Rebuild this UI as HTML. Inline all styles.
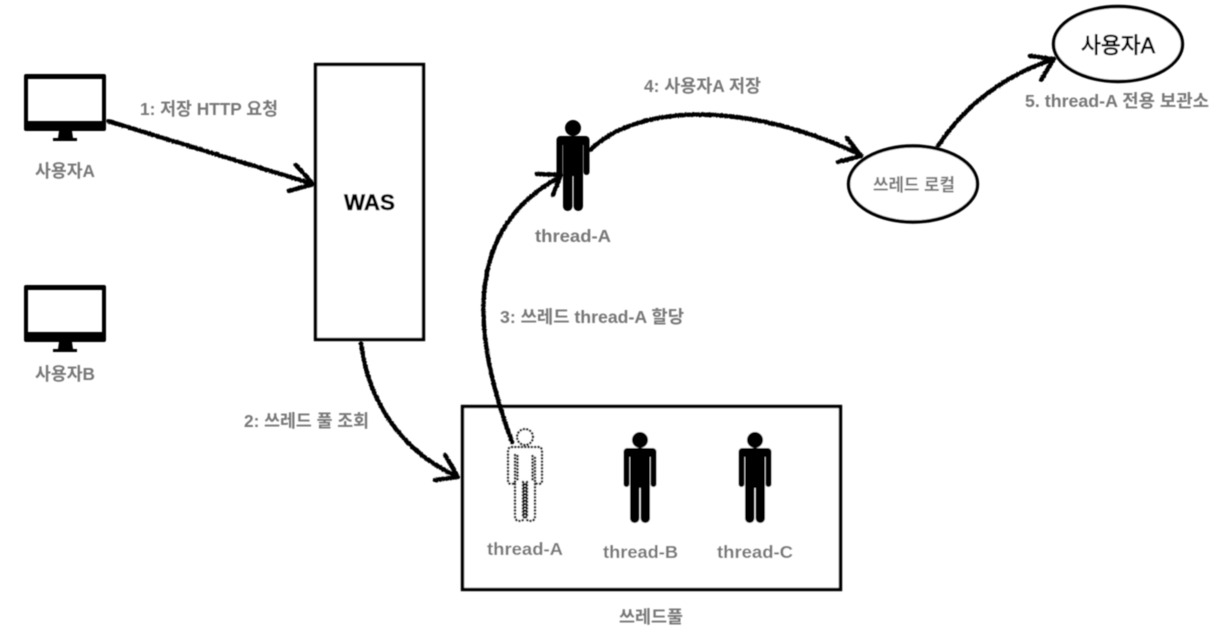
<!DOCTYPE html>
<html lang="ko">
<head>
<meta charset="utf-8">
<title>쓰레드 로컬 다이어그램</title>
<style>
html,body{margin:0;padding:0;background:#fff;width:1222px;height:640px;overflow:hidden}
svg{display:block}
text{font-family:"Liberation Sans","Noto Sans CJK KR",sans-serif}
.l{font-size:17.5px;font-weight:700;fill:#777}
.a{fill:none;stroke:#000;stroke-width:4.4;stroke-linecap:round;stroke-linejoin:round}
</style>
</head>
<body>
<svg width="1222" height="640" viewBox="0 0 1222 640" xmlns="http://www.w3.org/2000/svg">
<defs>
<filter id="rough" filterUnits="userSpaceOnUse" x="0" y="0" width="1222" height="640">
<feTurbulence type="fractalNoise" baseFrequency="0.6" numOctaves="2" seed="4" result="n"/>
<feDisplacementMap in="SourceGraphic" in2="n" scale="2.4" xChannelSelector="R" yChannelSelector="G"/>
<feGaussianBlur stdDeviation="0.45"/>
</filter>
<filter id="soft" filterUnits="userSpaceOnUse" x="0" y="0" width="1222" height="640">
<feGaussianBlur stdDeviation="0.55"/>
</filter>
<g id="monitor">
<path fill="#000" d="M26 74H104a2 2 0 0 1 2 2V129a2 2 0 0 1-2 2H26a2 2 0 0 1-2-2V76a2 2 0 0 1 2-2ZM28 79V121H102V79Z" fill-rule="evenodd"/>
<path fill="#000" d="M59 131H72L73 138H77V141H53V138H58Z"/>
</g>
<g id="person">
<circle cx="0" cy="8" r="8"/>
<rect x="-16.5" y="16" width="33" height="9" rx="4"/>
<rect x="-16.5" y="18" width="6" height="37" rx="3"/>
<rect x="10.5" y="18" width="6" height="37" rx="3"/>
<rect x="-10" y="16" width="20" height="40"/>
<rect x="-10" y="50" width="9.4" height="41" rx="4.7"/>
<rect x="0.6" y="50" width="9.4" height="41" rx="4.7"/>
</g>
</defs>

<g filter="url(#soft)">
<use href="#monitor"/>
<use href="#monitor" y="211"/>

<rect x="315.5" y="64.5" width="108" height="275" fill="#fff" stroke="#000" stroke-width="3.4"/>
<rect x="462.5" y="406.5" width="378" height="183" fill="#fff" stroke="#000" stroke-width="3.4"/>

<ellipse cx="913" cy="184" rx="64.5" ry="38" fill="#fff" stroke="#000" stroke-width="3.4"/>
<ellipse cx="1118" cy="44" rx="64.5" ry="37.5" fill="#fff" stroke="#000" stroke-width="3.4"/>

<use href="#person" transform="translate(640 432)"/>
<use href="#person" transform="translate(755 432)"/>
<use href="#person" transform="translate(573 120)"/>

<g fill="none" stroke="#000" stroke-width="2.5" stroke-linecap="round" stroke-dasharray="0.1 3.2">
<circle cx="525" cy="437" r="8"/>
<path d="M512 447H538Q542 447 542 451V481Q542 484 538.5 484Q535 484 535 481V455"/>
<path d="M535 484V516Q535 521 530.5 521Q526 521 526 517V484"/>
<path d="M515 455V481Q515 484 511.5 484Q508 484 508 481V451Q508 447 512 447"/>
<path d="M515 484V516Q515 521 519.5 521Q524 521 524 517V484"/>
<path d="M517.5 456V482M532.5 456V482M523 482V518M527 482V518"/>
</g>

<text class="l" x="140" y="115" textLength="138" lengthAdjust="spacingAndGlyphs">1: 저장 HTTP 요청</text>
<text class="l" x="35" y="177" textLength="60" lengthAdjust="spacingAndGlyphs">사용자A</text>
<text class="l" x="35" y="380" textLength="60" lengthAdjust="spacingAndGlyphs">사용자B</text>
<text x="344" y="210" font-size="22" font-weight="700" fill="#000" stroke="#000" stroke-width=".5" textLength="51" lengthAdjust="spacingAndGlyphs">WAS</text>
<text class="l" x="244" y="427" textLength="125" lengthAdjust="spacingAndGlyphs">2: 쓰레드 풀 조회</text>
<text class="l" x="500" y="323" textLength="184" lengthAdjust="spacingAndGlyphs">3: 쓰레드 thread-A 할당</text>
<text class="l" x="644" y="92" textLength="117" lengthAdjust="spacingAndGlyphs">4: 사용자A 저장</text>
<text class="l" x="1025" y="107" textLength="184" lengthAdjust="spacingAndGlyphs">5. thread-A 전용 보관소</text>
<text class="l" x="873" y="191" textLength="82" lengthAdjust="spacingAndGlyphs">쓰레드 로컬</text>
<text x="1081" y="53" font-size="22" font-weight="400" fill="#000" stroke="#000" stroke-width=".75" textLength="74" lengthAdjust="spacingAndGlyphs">사용자A</text>
<text class="l" x="535" y="242" textLength="76" lengthAdjust="spacingAndGlyphs">thread-A</text>
<text class="l" x="487" y="555" textLength="76" lengthAdjust="spacingAndGlyphs">thread-A</text>
<text class="l" x="603" y="558" textLength="75" lengthAdjust="spacingAndGlyphs">thread-B</text>
<text class="l" x="717" y="558" textLength="76" lengthAdjust="spacingAndGlyphs">thread-C</text>
<text class="l" x="619" y="623" textLength="64" lengthAdjust="spacingAndGlyphs">쓰레드풀</text>
</g>

<g filter="url(#rough)">
<path class="a" d="M108 121L313 184"/>
<path class="a" d="M296 165L313 184L289 191"/>
<path class="a" d="M361 343C368 400 400 450 456 476"/>
<path class="a" d="M445 455L458 477L435 480"/>
<path class="a" d="M512 442C474 340 460 230 560 177"/>
<path class="a" d="M537 174L561 175L553 195"/>
<path class="a" d="M590 150C640 102 750 102 861 155"/>
<path class="a" d="M847 138L861 156L838 162"/>
<path class="a" d="M938 146C965 105 1005 75 1054 59"/>
<path class="a" d="M1030 56L1054 59L1041 80"/>
</g>
</svg>
</body>
</html>
